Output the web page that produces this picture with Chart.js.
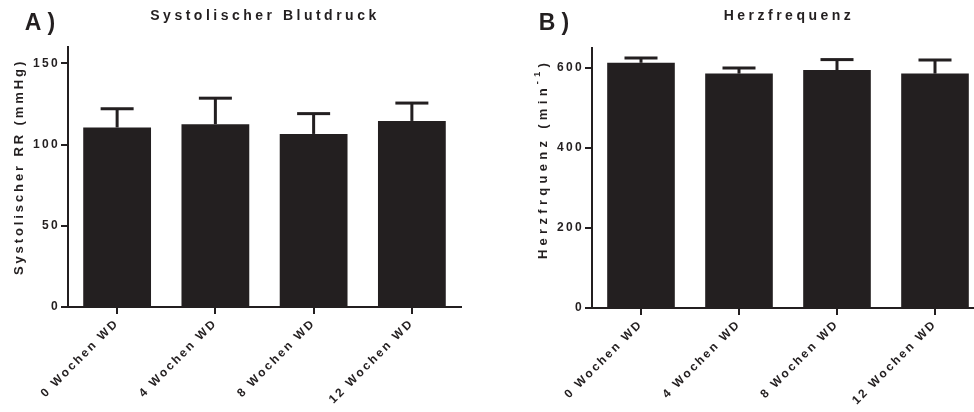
<!DOCTYPE html>
<html lang="de">
<head>
    <meta charset="UTF-8">
    <script src="https://cdn.jsdelivr.net/npm/chart.js@4.4.1/dist/chart.umd.min.js"></script>
    <style>
        html, body {
            margin: 0;
            padding: 0;
            overflow: hidden;
            background: #fff;
        }

        .panel {
            position: absolute;
            top: 0;
        }
    </style>
    <title>Blutdruck und Herzfrequenz</title>
</head>
<body>
    <div class="panel" style="left: 0;"><canvas id="chartA" width="487" height="412"></canvas></div>
    <div class="panel" style="left: 487px;"><canvas id="chartB" width="520" height="412"></canvas></div>

    <script>
        // data
        const categories = ['0 Wochen WD', '4 Wochen WD', '8 Wochen WD', '12 Wochen WD'];
        const bpMeans = [110.5, 112.5, 106.5, 114.5];
        const bpErrors = [11.5, 16, 12.5, 11];
        const hrMeans = [613, 586, 595, 586];
        const hrErrors = [12, 14, 26, 34];
        const bpTicks = [0, 50, 100, 150];
        const hrTicks = [0, 200, 400, 600];

        const ink = '#231f20';
        const family = '"Liberation Sans", Arial, sans-serif';

        // error bars drawn on top of each bar, through the y scale
        const errorBars = {
            id: 'errorBars',
            afterDatasetsDraw(chart) {
                const ctx = chart.ctx;
                const yScale = chart.scales.y;
                const ds = chart.data.datasets[0];
                const meta = chart.getDatasetMeta(0);
                ctx.save();
                ctx.fillStyle = ink;
                meta.data.forEach((bar, i) => {
                    const yTop = yScale.getPixelForValue(ds.data[i] + ds.errors[i]);
                    ctx.fillRect(bar.x - 1.5, yTop, 3, bar.y - yTop);
                    ctx.fillRect(bar.x - 16.5, yTop - 1.5, 33, 3);
                });
                ctx.restore();
            }
        };

        // letter spacing for the tick labels
        const spacing = {
            id: 'spacing',
            beforeDraw(chart) {
                chart.ctx.letterSpacing = '2.3px';
            }
        };

        // draw text runs (for superscripts), rotated or not
        function drawRuns(ctx, runs, cx, cy, rotate, spacingPx) {
            ctx.save();
            ctx.letterSpacing = spacingPx + 'px';
            let total = 0;
            runs.forEach(r => {
                ctx.font = r.font;
                r.w = ctx.measureText(r.text).width;
                total += r.w;
            });
            ctx.translate(cx, cy);
            if (rotate) ctx.rotate(-Math.PI / 2);
            ctx.fillStyle = ink;
            ctx.textBaseline = 'middle';
            ctx.textAlign = 'left';
            let x = -total / 2;
            runs.forEach(r => {
                ctx.font = r.font;
                ctx.fillText(r.text, x, r.dy || 0);
                x += r.w;
            });
            ctx.restore();
        }

        const labels = {
            id: 'labels',
            afterDraw(chart, args, opts) {
                const ctx = chart.ctx;
                drawRuns(ctx, [{ text: opts.letter, font: `bold 23px ${family}` }], opts.letterX, 24, false, 6);
                drawRuns(ctx, [{ text: opts.title, font: `bold 14px ${family}` }], opts.titleX, 16, false, 3.5);
                drawRuns(ctx, opts.yTitle, opts.yTitleX, opts.yTitleY, true, opts.yTitleSpacing);
            }
        };

        function makeChart(id, means, errors, yMax, yTicks, yWidth, xHeight, padRight, padTop, labelOpts) {
            return new Chart(document.getElementById(id), {
                type: 'bar',
                data: {
                    labels: categories,
                    datasets: [{
                        data: means,
                        errors: errors,
                        backgroundColor: ink,
                        borderWidth: 0,
                        categoryPercentage: 1.0,
                        barPercentage: 0.69
                    }]
                },
                options: {
                    responsive: false,
                    animation: false,
                    devicePixelRatio: 1,
                    layout: { padding: { top: padTop, right: padRight, left: 0, bottom: 0 } },
                    plugins: {
                        legend: { display: false },
                        tooltip: { enabled: false },
                        labels: labelOpts
                    },
                    scales: {
                        x: {
                            offset: true,
                            grid: { offset: false, drawOnChartArea: false, tickLength: 7, lineWidth: 2, color: ink },
                            border: { color: ink, width: 2 },
                            ticks: {
                                minRotation: 45,
                                maxRotation: 45,
                                autoSkip: false,
                                padding: 2,
                                color: ink,
                                font: { size: 12, weight: 'bold', family: family }
                            },
                            afterFit(s) { s.height = xHeight; }
                        },
                        y: {
                            min: 0,
                            max: yMax,
                            grid: { drawOnChartArea: false, tickLength: 7, lineWidth: 2, color: ink },
                            border: { color: ink, width: 2 },
                            ticks: {
                                padding: 1,
                                color: ink,
                                font: { size: 12, weight: 'bold', family: family }
                            },
                            afterBuildTicks(s) { s.ticks = yTicks.map(v => ({ value: v })); },
                            afterFit(s) { s.width = yWidth; }
                        }
                    }
                },
                plugins: [spacing, errorBars, labels]
            });
        }

        makeChart('chartA', bpMeans, bpErrors, 160, bpTicks, 68, 105, 26, 47, {
            letter: 'A)',
            letterX: 43,
            title: 'Systolischer Blutdruck',
            titleX: 265,
            yTitle: [{ text: 'Systolischer RR (mmHg)', font: `bold 13px ${family}` }],
            yTitleSpacing: 2.9,
            yTitleX: 19,
            yTitleY: 167
        });

        makeChart('chartB', hrMeans, hrErrors, 650, hrTicks, 105, 104, 23, 48, {
            letter: 'B)',
            letterX: 70,
            title: 'Herzfrequenz',
            titleX: 302,
            yTitle: [
                { text: 'Herzfrquenz (min', font: `bold 13px ${family}` },
                { text: '-1', font: `bold 9px ${family}`, dy: -5 },
                { text: ')', font: `bold 13px ${family}` }
            ],
            yTitleSpacing: 4.3,
            yTitleX: 56,
            yTitleY: 159
        });
    </script>
</body>
</html>
